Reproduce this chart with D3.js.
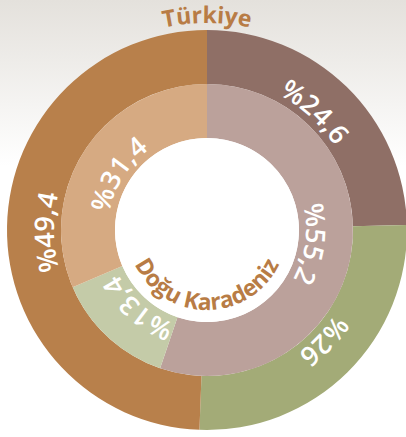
<!DOCTYPE html>
<html>
<head>
<meta charset="utf-8">
<script src="https://cdn.jsdelivr.net/npm/d3@7"></script>
<style>
  html, body { margin: 0; padding: 0; background: #fff; }
  svg { display: block; }
</style>
</head>
<body>
<div id="chart"></div>
<script>
// Outer ring: Türkiye, inner ring: Doğu Karadeniz (clockwise from top)
var outerValues = [24.6, 26, 49.4];
var outerColors = ["#8f6f66", "#a3ab77", "#b8804b"];
var innerValues = [55.2, 13.4, 31.4];
var innerColors = ["#bba19b", "#c4cba8", "#d6aa82"];
var outerTitle = "Türkiye";
var innerTitle = "Doğu Karadeniz";

var width = 406, height = 437;
var cx = 207, cy = 230;
var rHole = 92, rMid = 146, rOuter = 200;
var labelShift = -2 * Math.PI / 180; // labels sit a touch before the slice middle

var svg = d3.select("#chart").append("svg")
    .attr("width", width)
    .attr("height", height);

var defs = svg.append("defs");
var grad = defs.append("linearGradient")
    .attr("id", "bg-grad")
    .attr("x1", 0).attr("y1", 0)
    .attr("x2", 0).attr("y2", 1);
grad.append("stop").attr("offset", "0%").attr("stop-color", "#e4e1dc");
grad.append("stop").attr("offset", "38%").attr("stop-color", "#ffffff");
grad.append("stop").attr("offset", "100%").attr("stop-color", "#ffffff");

svg.append("rect")
    .attr("width", width)
    .attr("height", height)
    .attr("fill", "url(#bg-grad)");

var g = svg.append("g")
    .attr("transform", "translate(" + cx + "," + cy + ")");

var pie = d3.pie().sort(null).value(function(d) { return d; });

var outerArc = d3.arc().innerRadius(rMid).outerRadius(rOuter);
var innerArc = d3.arc().innerRadius(rHole).outerRadius(rMid);

g.selectAll(".outer-slice")
    .data(pie(outerValues))
    .enter().append("path")
    .attr("class", "outer-slice")
    .attr("d", outerArc)
    .attr("fill", function(d, i) { return outerColors[i]; });

g.selectAll(".inner-slice")
    .data(pie(innerValues))
    .enter().append("path")
    .attr("class", "inner-slice")
    .attr("d", innerArc)
    .attr("fill", function(d, i) { return innerColors[i]; });

g.append("circle")
    .attr("r", rHole)
    .attr("fill", "#fff");

// full clockwise circle starting at the top, used for the curved labels
function circlePath(r) {
    return "M0," + (-r) + " A" + r + "," + r + " 0 1 1 0," + r +
        " A" + r + "," + r + " 0 1 1 0," + (-r);
}

var rOuterLabel = rMid + 7, rInnerLabel = rHole + 7;

defs.append("path").attr("id", "outer-label-path").attr("d", circlePath(rOuterLabel));
defs.append("path").attr("id", "inner-label-path").attr("d", circlePath(rInnerLabel));
defs.append("path").attr("id", "title-top-path")
    .attr("d", "M-207,0 A207,207 0 0 1 207,0");
defs.append("path").attr("id", "title-bottom-path")
    .attr("d", "M-80,0 A80,80 0 0 0 80,0");

function fmt(v) {
    return "%" + String(v).replace(".", ",");
}

function addLabels(values, pathId, r, cls) {
    g.selectAll("." + cls)
        .data(pie(values))
        .enter().append("text")
        .attr("class", cls)
        .attr("fill", "#fff")
        .attr("font-family", "'Open Sans', sans-serif")
        .attr("font-size", 27)
        .attr("font-weight", 600)
        .append("textPath")
        .attr("href", "#" + pathId)
        .attr("text-anchor", "middle")
        .attr("startOffset", function(d) {
            return r * ((d.startAngle + d.endAngle) / 2 + labelShift);
        })
        .text(function(d) { return fmt(d.data); });
}

addLabels(outerValues, "outer-label-path", rOuterLabel, "outer-label");
addLabels(innerValues, "inner-label-path", rInnerLabel, "inner-label");

g.append("text")
    .attr("fill", "#b87c45")
    .attr("font-family", "'Open Sans', sans-serif")
    .attr("font-size", 23)
    .attr("font-weight", 700)
    .append("textPath")
    .attr("href", "#title-top-path")
    .attr("startOffset", "50%")
    .attr("text-anchor", "middle")
    .text(outerTitle);

g.append("text")
    .attr("fill", "#b87c45")
    .attr("font-family", "'Open Sans', sans-serif")
    .attr("font-size", 23)
    .attr("font-weight", 700)
    .append("textPath")
    .attr("href", "#title-bottom-path")
    .attr("startOffset", "50%")
    .attr("text-anchor", "middle")
    .text(innerTitle);
</script>
</body>
</html>
